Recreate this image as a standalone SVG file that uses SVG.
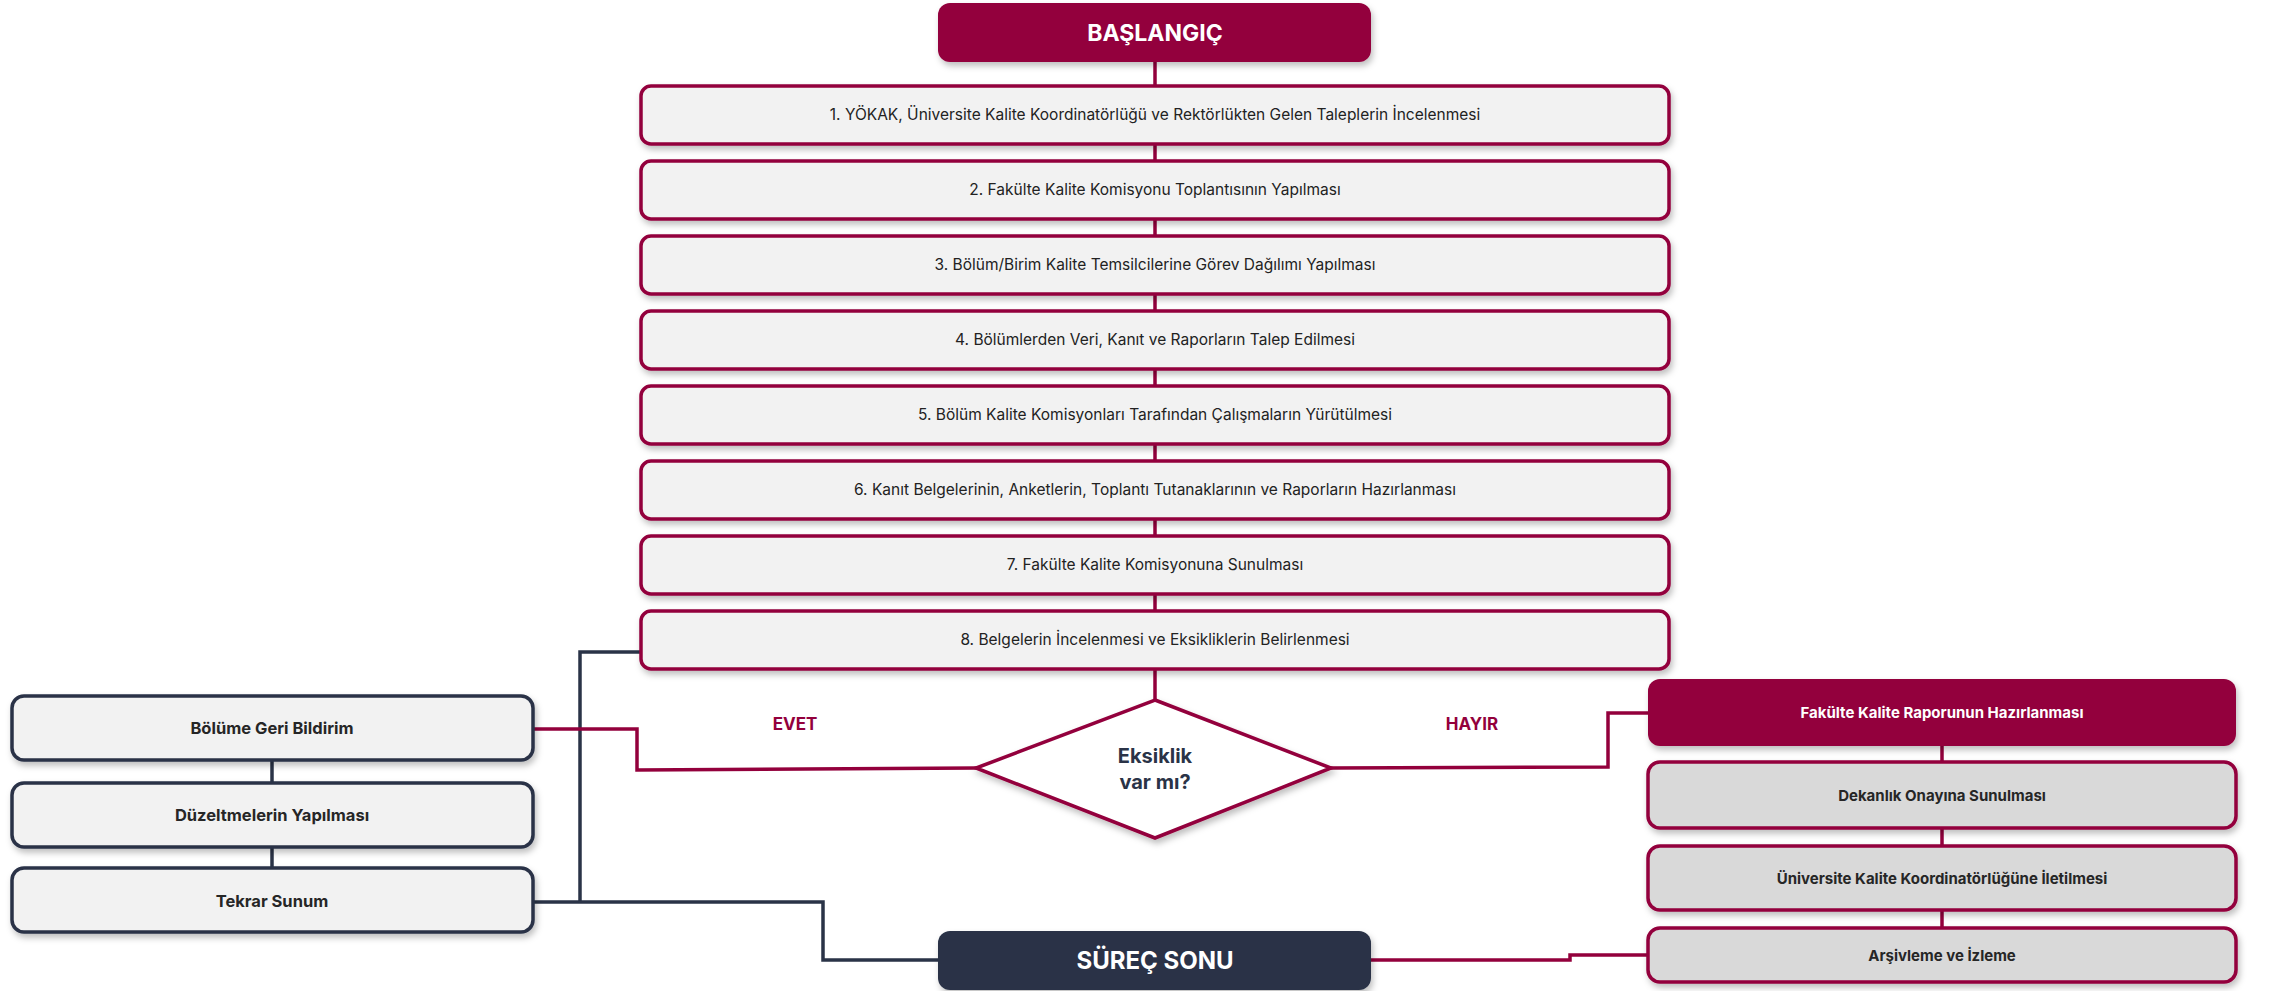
<svg xmlns="http://www.w3.org/2000/svg" width="2273" height="991" viewBox="0 0 2273 991">
<defs>
<filter id="sh" x="-5%" y="-20%" width="110%" height="160%">
<feDropShadow dx="2" dy="4" stdDeviation="3" flood-color="#000" flood-opacity="0.25"/>
</filter>
<style>
.step{fill:#f2f2f2;stroke:#93003c;stroke-width:3.5}
.lbox{fill:#f2f2f2;stroke:#2a3347;stroke-width:3.5}
.rbox{fill:#d9d9d9;stroke:#93003c;stroke-width:3.5}
.cr{fill:#93003c}
.dk{fill:#2a3347}
.st{font-family:Inter,"Noto Sans","Liberation Sans",sans-serif;font-size:15.5px;fill:#222222;text-anchor:middle}
.bt{font-family:Inter,"Noto Sans","Liberation Sans",sans-serif;font-size:15px;font-weight:700;fill:#262626;text-anchor:middle}
.lt{font-family:Inter,"Noto Sans","Liberation Sans",sans-serif;font-size:16.5px;font-weight:700;fill:#262626;text-anchor:middle}
.wt{font-family:Inter,"Noto Sans","Liberation Sans",sans-serif;font-weight:700;fill:#ffffff;text-anchor:middle}
.lab{font-family:Inter,"Noto Sans","Liberation Sans",sans-serif;font-size:17px;font-weight:700;fill:#93003c;text-anchor:middle}
.cc{fill:none;stroke:#93003c;stroke-width:3.5}
.cd{fill:none;stroke:#2a3347;stroke-width:3.5}
</style>
</defs>
<rect width="2273" height="991" fill="#ffffff"/>
<g id="connectors">
<line class="cc" x1="1155" y1="62" x2="1155" y2="700"/>
<polyline class="cd" points="641,652 580,652 580,902"/>
<polyline class="cd" points="533,902 823,902 823,960 938,960"/>
<line class="cd" x1="272" y1="760" x2="272" y2="783"/>
<line class="cd" x1="272" y1="847" x2="272" y2="868"/>
<polyline class="cc" points="533,729 637,729 637,770 976,768"/>
<polyline class="cc" points="1331,768 1608,767 1608,713 1648,713"/>
<polyline class="cc" points="1371,960 1570,960 1570,955 1648,955"/>
<line class="cc" x1="1942" y1="746" x2="1942" y2="762"/>
<line class="cc" x1="1942" y1="828" x2="1942" y2="846"/>
<line class="cc" x1="1942" y1="910" x2="1942" y2="928"/>
</g>
<g id="start">
<rect class="cr" x="938" y="3" width="433" height="59" rx="12" filter="url(#sh)"/>
<text class="wt" x="1155" y="41" font-size="23">BAŞLANGIÇ</text>
</g>
<g id="step1"><rect class="step" x="641" y="86" width="1028" height="58" rx="10" filter="url(#sh)"/><text class="st" x="1155" y="120">1. YÖKAK, Üniversite Kalite Koordinatörlüğü ve Rektörlükten Gelen Taleplerin İncelenmesi</text></g>
<g id="step2"><rect class="step" x="641" y="161" width="1028" height="58" rx="10" filter="url(#sh)"/><text class="st" x="1155" y="195">2. Fakülte Kalite Komisyonu Toplantısının Yapılması</text></g>
<g id="step3"><rect class="step" x="641" y="236" width="1028" height="58" rx="10" filter="url(#sh)"/><text class="st" x="1155" y="270">3. Bölüm/Birim Kalite Temsilcilerine Görev Dağılımı Yapılması</text></g>
<g id="step4"><rect class="step" x="641" y="311" width="1028" height="58" rx="10" filter="url(#sh)"/><text class="st" x="1155" y="345">4. Bölümlerden Veri, Kanıt ve Raporların Talep Edilmesi</text></g>
<g id="step5"><rect class="step" x="641" y="386" width="1028" height="58" rx="10" filter="url(#sh)"/><text class="st" x="1155" y="420">5. Bölüm Kalite Komisyonları Tarafından Çalışmaların Yürütülmesi</text></g>
<g id="step6"><rect class="step" x="641" y="461" width="1028" height="58" rx="10" filter="url(#sh)"/><text class="st" x="1155" y="495">6. Kanıt Belgelerinin, Anketlerin, Toplantı Tutanaklarının ve Raporların Hazırlanması</text></g>
<g id="step7"><rect class="step" x="641" y="536" width="1028" height="58" rx="10" filter="url(#sh)"/><text class="st" x="1155" y="570">7. Fakülte Kalite Komisyonuna Sunulması</text></g>
<g id="step8"><rect class="step" x="641" y="611" width="1028" height="58" rx="10" filter="url(#sh)"/><text class="st" x="1155" y="645">8. Belgelerin İncelenmesi ve Eksikliklerin Belirlenmesi</text></g>
<g id="decision">
<polygon points="1155,700 1331,768 1155,838 976,768" fill="#ffffff" stroke="#93003c" stroke-width="3.5" filter="url(#sh)"/>
<text x="1155" y="763" font-family="Inter,'Noto Sans','Liberation Sans',sans-serif" font-size="20" font-weight="700" fill="#2a3347" text-anchor="middle">Eksiklik</text>
<text x="1155" y="789" font-family="Inter,'Noto Sans','Liberation Sans',sans-serif" font-size="20" font-weight="700" fill="#2a3347" text-anchor="middle">var mı?</text>
</g>
<text class="lab" x="795" y="730">EVET</text>
<text class="lab" x="1472" y="730">HAYIR</text>
<g id="feedback"><rect class="lbox" x="12" y="696" width="521" height="64" rx="12" filter="url(#sh)"/><text class="lt" x="272" y="734">Bölüme Geri Bildirim</text></g>
<g id="fix"><rect class="lbox" x="12" y="783" width="521" height="64" rx="12" filter="url(#sh)"/><text class="lt" x="272" y="821">Düzeltmelerin Yapılması</text></g>
<g id="resubmit"><rect class="lbox" x="12" y="868" width="521" height="64" rx="12" filter="url(#sh)"/><text class="lt" x="272" y="907">Tekrar Sunum</text></g>
<g id="report"><rect class="cr" x="1648" y="679" width="588" height="67" rx="12" filter="url(#sh)"/><text class="wt" x="1942" y="718" font-size="15">Fakülte Kalite Raporunun Hazırlanması</text></g>
<g id="dean"><rect class="rbox" x="1648" y="762" width="588" height="66" rx="12" filter="url(#sh)"/><text class="bt" x="1942" y="801">Dekanlık Onayına Sunulması</text></g>
<g id="univ"><rect class="rbox" x="1648" y="846" width="588" height="64" rx="12" filter="url(#sh)"/><text class="bt" x="1942" y="884">Üniversite Kalite Koordinatörlüğüne İletilmesi</text></g>
<g id="archive"><rect class="rbox" x="1648" y="928" width="588" height="54" rx="12" filter="url(#sh)"/><text class="bt" x="1942" y="961">Arşivleme ve İzleme</text></g>
<g id="end">
<rect class="dk" x="938" y="931" width="433" height="59" rx="12" filter="url(#sh)"/>
<text class="wt" x="1155" y="969" font-size="24">SÜREÇ SONU</text>
</g>
</svg>
